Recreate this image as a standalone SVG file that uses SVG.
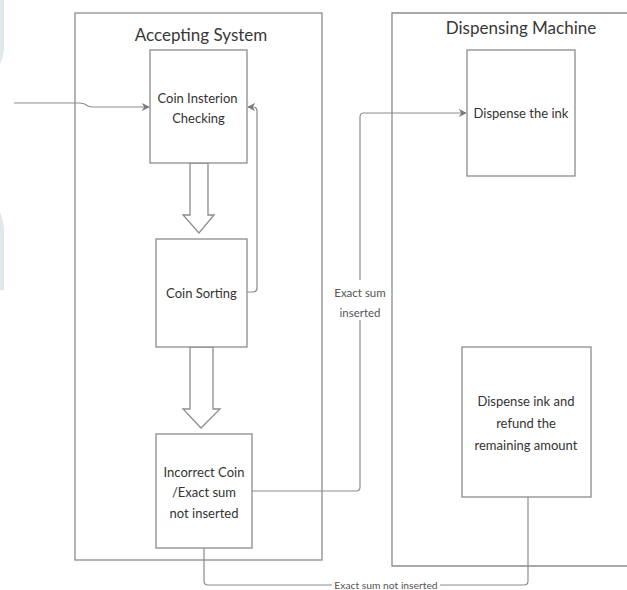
<svg xmlns="http://www.w3.org/2000/svg" width="627" height="590" viewBox="0 0 627 590">
<defs>
<style>
.box{fill:#fff;stroke:#8c8c8c;stroke-width:1.3}
.cont{fill:none;stroke:#8c8c8c;stroke-width:1.3}
.ln{fill:none;stroke:#8c8c8c;stroke-width:1.2}
.t{font-family:Lato,"Liberation Sans",sans-serif;fill:#333;text-anchor:middle}
.title{font-size:17px;fill:#383838}
.nt{font-size:13px}
.lb{font-size:11.5px;fill:#555}
.lbs{font-size:10.3px;fill:#555}
</style>
<marker id="ah" viewBox="0 0 10 10" refX="9" refY="5" markerWidth="8" markerHeight="8" markerUnits="userSpaceOnUse" orient="auto">
<path d="M0,0 L10,5 L0,10 L3,5 Z" fill="#7a7a7a"/>
</marker>
</defs>
<rect width="627" height="590" fill="#fff"/>
<path d="M0,0 H4 V48 Q4,56 0,64 Z" fill="#e1e8ec"/>
<path d="M0,212 Q4,222 4,232 V290 H0 Z" fill="#e1e8ec"/>

<g id="accepting-system">
<rect class="cont" x="75" y="13" width="247" height="547"/>
<text class="t title" x="201" y="41">Accepting System</text>
</g>
<g id="dispensing-machine">
<path class="cont" d="M630,13 H392 V566 H630"/>
<text class="t title" x="521" y="34">Dispensing Machine</text>
</g>

<g id="connectors">
<path class="ln" d="M14,103 H80 Q84,103 88,106 Q90,107 94,107 H149" marker-end="url(#ah)"/>
<path class="ln" d="M247,292 H253 Q257,292 257,288 V111 Q257,107 253,107 H248" marker-end="url(#ah)"/>
<polygon class="box" points="190,163 208,163 208,215 214,215 199,233 183,215 190,215"/>
<polygon class="box" points="190,347 213,347 213,409 220,409 201,428 183,409 190,409"/>
<path class="ln" d="M252,491 H356 Q360,491 360,487 V320 M360,280 V117 Q360,113 364,113 H466" marker-end="url(#ah)"/>
<text class="t lb" x="360" y="297">Exact sum</text>
<text class="t lb" x="360" y="317">inserted</text>
<path class="ln" d="M204,548 V581 Q204,585 208,585 H332 M440,585 H524 Q528,585 528,581 V497"/>
<text class="t lbs" x="386" y="588.5">Exact sum not inserted</text>
</g>

<g id="coin-insertion">
<rect class="box" x="150" y="50" width="97" height="113"/>
<text class="t nt" x="197.5" y="103">Coin Insterion</text>
<text class="t nt" x="198.5" y="123">Checking</text>
</g>
<g id="coin-sorting">
<rect class="box" x="156" y="239" width="91" height="108"/>
<text class="t nt" x="201.5" y="298">Coin Sorting</text>
</g>
<g id="incorrect-coin">
<rect class="box" x="156" y="434" width="96" height="114"/>
<text class="t nt" x="204" y="477">Incorrect Coin</text>
<text class="t nt" x="204" y="497">/Exact sum</text>
<text class="t nt" x="204" y="518">not inserted</text>
</g>
<g id="dispense-ink">
<rect class="box" x="467" y="50" width="108" height="126"/>
<text class="t nt" x="521" y="118">Dispense the ink</text>
</g>
<g id="dispense-refund">
<rect class="box" x="462" y="347" width="129" height="150"/>
<text class="t nt" x="526" y="406">Dispense ink and</text>
<text class="t nt" x="526" y="428">refund the</text>
<text class="t nt" x="526" y="450">remaining amount</text>
</g>
</svg>
